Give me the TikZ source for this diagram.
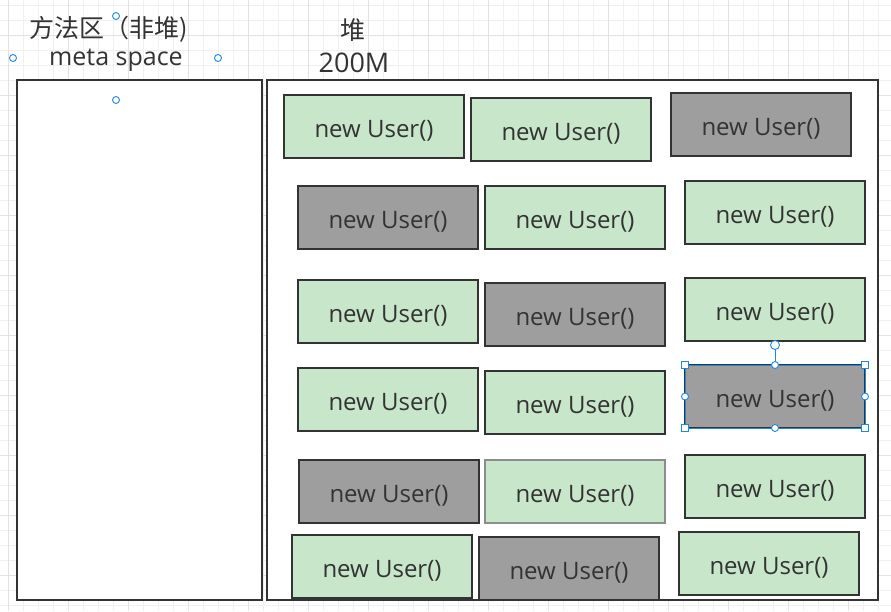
\documentclass[tikz,border=0pt]{standalone}
\usepackage{fontspec}
\usetikzlibrary{calc}
\setmainfont{Open Sans}
\newfontfamily\cjk{Noto Sans CJK SC}
\definecolor{gridminor}{RGB}{240,240,240}
\definecolor{gridmajor}{RGB}{226,226,226}
\definecolor{livefill}{RGB}{200,230,201}
\definecolor{deadfill}{RGB}{158,158,158}
\definecolor{selblue}{RGB}{30,136,229}
\definecolor{ink}{RGB}{51,51,51}
\begin{document}
\begin{tikzpicture}[x=1pt,y=-1pt,
  txt/.style={text=ink, inner sep=0pt},
  obj/.style={draw=ink, line width=1.6pt, minimum width=180pt, minimum height=63pt, anchor=north west, inner sep=0pt, outer sep=0pt, text=ink, font=\fontsize{24}{28}\selectfont, text depth=0pt, text height=22pt},
  live/.style={obj, fill=livefill},
  dead/.style={obj, fill=deadfill},
  region/.style={draw=ink, line width=1.6pt, fill=white, anchor=north west, inner sep=0pt, outer sep=0pt},
  hcirc/.style={circle, draw=selblue, fill=white, line width=0.9pt, minimum size=7pt, inner sep=0pt},
  hsq/.style={rectangle, draw=selblue, fill=white, line width=0.9pt, minimum size=7pt, inner sep=0pt}
]
\useasboundingbox (0,0) rectangle (891,611);
% grid
\foreach \x in {8,23,...,891} \draw[line width=0.6pt, gridminor] (\x,0) -- (\x,611);
\foreach \y in {5,20,...,611} \draw[line width=0.6pt, gridminor] (0,\y) -- (891,\y);
\foreach \x in {8,68,...,891} \draw[line width=0.7pt, gridmajor] (\x,0) -- (\x,611);
\foreach \y in {35,95,...,611} \draw[line width=0.7pt, gridmajor] (0,\y) -- (891,\y);

% regions
\node[region, minimum width=245pt, minimum height=520pt] (meta) at (17,80) {};
\node[region, minimum width=611pt, minimum height=520pt] (heap) at (267,80) {};

% titles
\node[txt, font=\fontsize{25}{28}\selectfont] (metat1) at (109,29) {\cjk 方法区（非堆)};
\node[txt, font=\fontsize{25}{28}\selectfont] (metat2) at (116,60) {meta space};
\node[txt, font=\fontsize{25}{28}\selectfont] (heapt1) at (353,30) {\cjk 堆};
\node[txt, font=\fontsize{27}{30}\selectfont] (heapt2) at (354,63) {200M};

% objects
\node[live] (o11) at (284,95) {new User()};
\node[live] (o12) at (471,98) {new User()};
\node[dead] (o13) at (671,93) {new User()};
\node[dead] (o21) at (298,186) {new User()};
\node[live] (o22) at (485,186) {new User()};
\node[live] (o23) at (685,181) {new User()};
\node[live] (o31) at (298,280) {new User()};
\node[dead] (o32) at (485,283) {new User()};
\node[live] (o33) at (685,278) {new User()};
\node[live] (o41) at (298,368) {new User()};
\node[live] (o42) at (485,371) {new User()};
\node[dead] (o43) at (685,365) {new User()};
\node[dead] (o51) at (299,460) {new User()};
\node[live, draw=black!45] (o52) at (485,460) {new User()};
\node[live] (o53) at (685,455) {new User()};
\node[live] (o61) at (292,535) {new User()};
\node[dead] (o62) at (479,537) {new User()};
\node[live] (o63) at (679,532) {new User()};

% selection outline & handles on o43
\draw[selblue, line width=0.8pt] (o43.north west) rectangle (o43.south east);
\coordinate (rot) at ($(o43.north)+(0,-20)$);
\draw[selblue, line width=0.8pt] (o43.north) -- (rot);
\node[hcirc, minimum size=9pt] (hrot) at (rot) {};
\foreach \a in {north west,north east,south west,south east} \node[hsq] at (o43.\a) {};
\foreach \a in {north,south,east,west} \node[hcirc] at (o43.\a) {};

% handles of the title text
\node[hcirc] (t1) at (116,16) {};
\node[hcirc] (t2) at (13,58) {};
\node[hcirc] (t3) at (218,58) {};
\node[hcirc] (t4) at (116,100) {};
\end{tikzpicture}
\end{document}
